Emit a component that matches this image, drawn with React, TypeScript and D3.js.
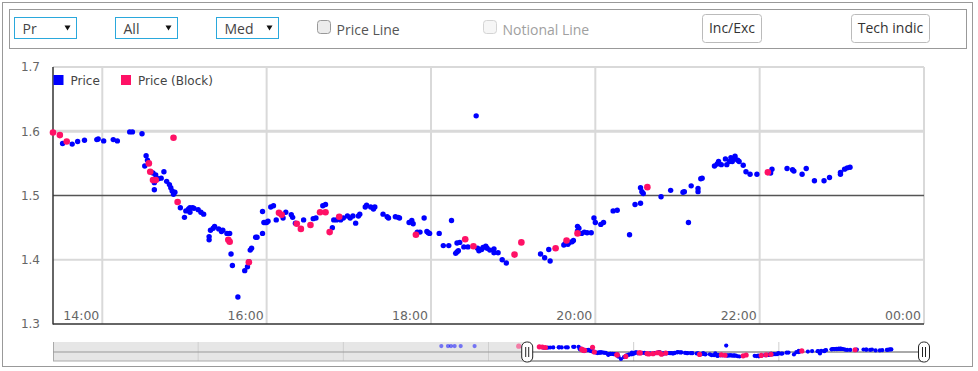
import React, { useEffect, useRef } from "react";
import * as d3 from "d3";

const WIDTH = 978;
const HEIGHT = 371;

// trades: [time, price]
const priceTrades: [string, number][] = [
  ["10:42", 1.615], ["10:53", 1.614], ["10:58", 1.615], ["11:04", 1.614], ["11:14", 1.615], ["11:37", 1.615],
  ["13:29", 1.594], ["13:31", 1.581], ["13:38", 1.58], ["13:42", 1.584], ["13:47", 1.586], ["13:56", 1.587],
  ["13:57", 1.588], ["14:01", 1.585], ["14:08", 1.587], ["14:11", 1.585], ["14:20", 1.599], ["14:22", 1.599],
  ["14:29", 1.596], ["14:32", 1.562], ["14:33", 1.555], ["14:31", 1.546], ["14:37", 1.535], ["14:38", 1.52],
  ["14:38", 1.509], ["14:39", 1.532], ["14:41", 1.526], ["14:43", 1.527], ["14:45", 1.537], ["14:47", 1.522],
  ["14:49", 1.517], ["14:50", 1.512], ["14:51", 1.507], ["14:52", 1.502], ["14:53", 1.505], ["14:57", 1.481],
  ["15:00", 1.466], ["15:01", 1.476], ["15:03", 1.479], ["15:04", 1.481], ["15:06", 1.481], ["15:07", 1.48],
  ["15:04", 1.474], ["15:10", 1.478], ["15:12", 1.474], ["15:14", 1.471], ["15:18", 1.431], ["15:18", 1.436],
  ["15:19", 1.446], ["15:21", 1.449], ["15:22", 1.452], ["15:25", 1.448], ["15:27", 1.444], ["15:28", 1.446],
  ["15:31", 1.441], ["15:33", 1.441], ["15:34", 1.409], ["15:35", 1.391], ["15:39", 1.342], ["15:44", 1.383],
  ["15:46", 1.389], ["15:47", 1.397], ["15:48", 1.415], ["15:49", 1.418], ["15:52", 1.435], ["15:53", 1.435],
  ["15:57", 1.475], ["15:57", 1.441], ["15:58", 1.458], ["15:59", 1.458], ["16:00", 1.458], ["16:01", 1.46],
  ["16:03", 1.482], ["16:05", 1.484], ["16:07", 1.462], ["16:12", 1.465], ["16:14", 1.474], ["16:18", 1.47],
  ["16:19", 1.466], ["16:21", 1.457], ["16:27", 1.462], ["16:34", 1.464], ["16:36", 1.465], ["16:41", 1.484],
  ["16:43", 1.486], ["16:48", 1.45], ["16:49", 1.462], ["16:51", 1.462], ["16:54", 1.462], ["16:56", 1.465],
  ["16:59", 1.468], ["17:01", 1.465], ["17:03", 1.468], ["17:05", 1.457], ["17:07", 1.468], ["17:08", 1.471],
  ["17:12", 1.482], ["17:13", 1.485], ["17:16", 1.482], ["17:18", 1.479], ["17:19", 1.482], ["17:25", 1.471],
  ["17:28", 1.467], ["17:29", 1.465], ["17:34", 1.467], ["17:36", 1.466], ["17:37", 1.465], ["17:44", 1.458],
  ["17:46", 1.461], ["17:47", 1.456], ["17:50", 1.443], ["17:52", 1.443], ["17:55", 1.465], ["17:57", 1.444],
  ["17:58", 1.442], ["17:59", 1.441], ["18:06", 1.441], ["18:09", 1.422], ["18:13", 1.422], ["18:15", 1.461],
  ["18:18", 1.41], ["18:19", 1.412], ["18:20", 1.414], ["18:19", 1.426], ["18:21", 1.427], ["18:24", 1.42],
  ["18:27", 1.42], ["18:33", 1.624], ["18:34", 1.418], ["18:35", 1.414], ["18:37", 1.416], ["18:38", 1.419],
  ["18:40", 1.421], ["18:41", 1.418], ["18:43", 1.415], ["18:46", 1.417], ["18:46", 1.411], ["18:49", 1.411],
  ["18:52", 1.4], ["18:55", 1.395], ["19:20", 1.409], ["19:23", 1.403], ["19:26", 1.416], ["19:27", 1.398],
  ["19:37", 1.423], ["19:38", 1.425], ["19:40", 1.424], ["19:41", 1.427], ["19:43", 1.428], ["19:44", 1.43],
  ["19:47", 1.445], ["19:47", 1.452], ["19:48", 1.449], ["19:50", 1.441], ["19:52", 1.443], ["19:54", 1.442],
  ["19:57", 1.442], ["19:59", 1.465], ["20:00", 1.458], ["20:04", 1.455], ["20:06", 1.458], ["20:13", 1.476],
  ["20:16", 1.477], ["20:25", 1.439], ["20:29", 1.486], ["20:33", 1.488], ["20:33", 1.512], ["20:34", 1.506],
  ["20:35", 1.503], ["20:48", 1.498], ["20:55", 1.508], ["21:04", 1.505], ["21:05", 1.506], ["21:08", 1.458],
  ["21:10", 1.515], ["21:15", 1.506], ["21:15", 1.511], ["21:17", 1.526], ["21:18", 1.527], ["21:27", 1.546],
  ["21:29", 1.549], ["21:30", 1.553], ["21:32", 1.548], ["21:35", 1.557], ["21:36", 1.548], ["21:38", 1.553],
  ["21:39", 1.559], ["21:40", 1.553], ["21:42", 1.557], ["21:42", 1.561], ["21:44", 1.555], ["21:45", 1.553],
  ["21:48", 1.547], ["21:50", 1.537], ["21:53", 1.533], ["21:58", 1.533], ["22:08", 1.535], ["22:09", 1.541],
  ["22:20", 1.542], ["22:24", 1.54], ["22:25", 1.538], ["22:31", 1.533], ["22:34", 1.542], ["22:40", 1.523],
  ["22:47", 1.523], ["22:51", 1.528], ["22:59", 1.533], ["22:59", 1.536], ["23:02", 1.541], ["23:04", 1.543],
  ["23:06", 1.544],
];

const blockTrades: [string, number][] = [
  ["12:50", 1.612], ["13:24", 1.598], ["13:29", 1.594], ["13:34", 1.584], ["14:34", 1.55], ["14:35", 1.537],
  ["14:37", 1.524], ["14:39", 1.524], ["14:52", 1.59], ["14:55", 1.49], ["15:32", 1.431], ["15:33", 1.428],
  ["15:47", 1.396], ["16:09", 1.473], ["16:11", 1.47], ["16:22", 1.456], ["16:25", 1.448], ["16:32", 1.454],
  ["16:39", 1.474], ["16:43", 1.474], ["16:46", 1.443], ["16:53", 1.467], ["17:49", 1.439], ["18:25", 1.432],
  ["18:31", 1.421], ["19:01", 1.408], ["19:06", 1.427], ["19:31", 1.418], ["19:39", 1.43], ["19:47", 1.441],
  ["20:38", 1.513], ["22:06", 1.536],
];

const yTicks = [1.3, 1.4, 1.5, 1.6, 1.7];
const yDomain = [1.3, 1.7];
const refLevel = 1.5;
const closeLevel = 1.6;
const viewStart = "13:24";
const brushStart = "13:04";

const selectLabels = ["Pr", "All", "Med"];
const checkLabels = ["Price Line", "Notional Line"];
const buttonLabels = ["Inc/Exc", "Tech indic"];
const legendLabels = ["Price", "Price (Block)"];

const BLUE = "#0000ff";
const PINK = "#ff1166";

const App = () => {
  const svgRef = useRef<SVGSVGElement>(null);

  useEffect(() => {
    document.body.style.margin = "0";
    const svg = d3.select(svgRef.current).attr("width", WIDTH).attr("height", HEIGHT);
    svg.selectAll("*").remove();

    const parse = d3.timeParse("%H:%M");
    const dayStart = parse("00:00") as Date;
    const dayEnd = d3.timeDay.offset(dayStart, 1);

    const plot = { left: 53, right: 924, top: 67, bottom: 324 };
    const nav = { top: 342, mid: 352, bottom: 361 };

    const x = d3.scaleTime().domain([parse(viewStart) as Date, dayEnd]).range([plot.left, plot.right]);
    const y = d3.scaleLinear().domain(yDomain).range([plot.bottom, plot.top]);
    const nx = d3.scaleTime().domain([dayStart, dayEnd]).range([plot.left, plot.right]);
    const ny = d3.scaleLinear().domain(yDomain).range([nav.bottom, nav.top]);

    // outer frame + toolbar
    svg.append("rect").attr("x", 2.5).attr("y", 2.5).attr("width", 970).attr("height", 364)
      .attr("fill", "white").attr("stroke", "#999");
    svg.append("rect").attr("x", 9.5).attr("y", 9.5).attr("width", 957).attr("height", 39)
      .attr("fill", "white").attr("stroke", "#999");

    const tb = svg.append("g").style("font-family", "'Open Sans', sans-serif").style("font-size", "14px");
    const selX = [14.5, 115.5, 216.5];
    selectLabels.forEach((s, i) => {
      const g = tb.append("g").attr("transform", `translate(${selX[i]},17.5)`);
      g.append("rect").attr("width", 62).attr("height", 21).attr("fill", "white").attr("stroke", "#2aa8dc");
      g.append("text").attr("x", 8).attr("y", 16.5).attr("fill", "#444").text(s);
      g.append("path").attr("d", "M50,8 L56,8 L53,13 Z").attr("fill", "#111");
    });

    const chkX = [317.5, 483.5];
    checkLabels.forEach((s, i) => {
      const off = i === 1;
      tb.append("rect").attr("x", chkX[i]).attr("y", 20.5).attr("width", 13).attr("height", 13).attr("rx", 3)
        .attr("fill", off ? "#f6f6f6" : "#ececec").attr("stroke", off ? "#d4d4d4" : "#999");
      tb.append("text").attr("x", chkX[i] + 19).attr("y", 35).attr("fill", off ? "#a0a0a0" : "#555").text(s);
    });

    const btnX = [702.5, 851.5];
    const btnW = [59, 78];
    buttonLabels.forEach((s, i) => {
      tb.append("rect").attr("x", btnX[i]).attr("y", 14.5).attr("width", btnW[i]).attr("height", 28).attr("rx", 3)
        .attr("fill", "white").attr("stroke", "#bbb");
      tb.append("text").attr("x", btnX[i] + btnW[i] / 2).attr("y", 33).attr("text-anchor", "middle")
        .attr("fill", "#333").text(s);
    });

    // main chart grid
    const chart = svg.append("g").style("font-family", "'DejaVu Sans', sans-serif");
    const xTicks = x.ticks(d3.timeHour.every(2) as d3.TimeInterval);
    chart.selectAll("line.vgrid").data(xTicks).join("line").attr("class", "vgrid")
      .attr("x1", (d) => x(d)).attr("x2", (d) => x(d)).attr("y1", plot.top).attr("y2", plot.bottom)
      .attr("stroke", "#d9d9d9").attr("stroke-width", 2);
    chart.selectAll("line.hgrid").data(yTicks.filter((d) => d !== refLevel && d !== yDomain[0])).join("line")
      .attr("class", "hgrid")
      .attr("x1", plot.left).attr("x2", plot.right).attr("y1", (d) => y(d)).attr("y2", (d) => y(d))
      .attr("stroke", "#d9d9d9").attr("stroke-width", (d) => (d === closeLevel ? 3 : 2));
    chart.append("line").attr("x1", plot.left).attr("x2", plot.right).attr("y1", y(refLevel)).attr("y2", y(refLevel))
      .attr("stroke", "#555").attr("stroke-width", 1.5);
    chart.append("line").attr("x1", plot.left).attr("x2", plot.left).attr("y1", plot.top).attr("y2", plot.bottom + 0.5)
      .attr("stroke", "#333").attr("stroke-width", 1.5);
    chart.append("line").attr("x1", plot.left).attr("x2", plot.right).attr("y1", plot.bottom).attr("y2", plot.bottom)
      .attr("stroke", "#333").attr("stroke-width", 1.5);

    chart.selectAll("text.ylab").data(yTicks).join("text").attr("class", "ylab")
      .attr("x", 40).attr("y", (d) => y(d)).attr("dy", "0.36em").attr("text-anchor", "end")
      .style("font-size", "12px").attr("fill", "#666").text((d) => d.toFixed(1));
    chart.selectAll("text.xlab").data(xTicks).join("text").attr("class", "xlab")
      .attr("x", (d) => x(d) - 3).attr("y", 320).attr("text-anchor", "end")
      .style("font-size", "12.5px").attr("fill", "#666").text((d) => d3.timeFormat("%H:%M")(d));

    // legend
    const legX = [53.5, 121];
    legendLabels.forEach((s, i) => {
      chart.append("rect").attr("x", legX[i]).attr("y", 75).attr("width", 10).attr("height", 10)
        .attr("fill", i === 0 ? BLUE : PINK);
      chart.append("text").attr("x", legX[i] + 17).attr("y", 85).style("font-size", "12px")
        .attr("fill", "#444").text(s);
    });

    // points
    svg.append("clipPath").attr("id", "plotClip").append("rect")
      .attr("x", plot.left - 4).attr("y", plot.top).attr("width", plot.right - plot.left + 4)
      .attr("height", plot.bottom - plot.top);
    const pts = svg.append("g").attr("clip-path", "url(#plotClip)");
    const series: [[string, number][], string, number][] = [
      [priceTrades, BLUE, 2.7],
      [blockTrades, PINK, 3.3],
    ];
    series.forEach(([data, color, r]) => {
      pts.append("g").selectAll("circle").data(data).join("circle")
        .attr("cx", (d) => x(parse(d[0]) as Date)).attr("cy", (d) => y(d[1])).attr("r", r).attr("fill", color);
    });

    // navigator
    const navG = svg.append("g");
    const bx = nx(parse(brushStart) as Date);
    navG.append("rect").attr("x", plot.left).attr("y", nav.top).attr("width", plot.right - plot.left)
      .attr("height", nav.bottom - nav.top).attr("fill", "#e6e6e6");
    navG.append("rect").attr("x", bx).attr("y", nav.top).attr("width", plot.right - bx)
      .attr("height", nav.bottom - nav.top).attr("fill", "white");
    const navTicks = nx.ticks(d3.timeHour.every(4) as d3.TimeInterval).filter((d) => +d > +dayStart && +d < +dayEnd);
    navG.selectAll("line.ng").data(navTicks).join("line").attr("class", "ng")
      .attr("x1", (d) => nx(d)).attr("x2", (d) => nx(d)).attr("y1", nav.top).attr("y2", nav.bottom)
      .attr("stroke", "#cfcfcf");
    navG.append("line").attr("x1", plot.left + 0.5).attr("x2", plot.left + 0.5).attr("y1", nav.top).attr("y2", nav.bottom)
      .attr("stroke", "#aaa");
    navG.append("line").attr("x1", plot.left).attr("x2", bx).attr("y1", nav.mid).attr("y2", nav.mid).attr("stroke", "#999");
    navG.append("line").attr("x1", plot.left).attr("x2", bx).attr("y1", nav.bottom).attr("y2", nav.bottom).attr("stroke", "#aaa");
    navG.append("line").attr("x1", bx).attr("x2", plot.right).attr("y1", nav.mid).attr("y2", nav.mid).attr("stroke", "#555");
    navG.append("line").attr("x1", bx).attr("x2", plot.right).attr("y1", nav.bottom).attr("y2", nav.bottom).attr("stroke", "#555");

    series.forEach(([data, color, r]) => {
      navG.append("g").selectAll("circle").data(data).join("circle")
        .attr("cx", (d) => nx(parse(d[0]) as Date)).attr("cy", (d) => ny(d[1])).attr("r", r * 0.78)
        .attr("fill", color)
        .attr("fill-opacity", (d) => (nx(parse(d[0]) as Date) < bx ? 0.5 : 1));
    });

    [bx, plot.right].forEach((hx) => {
      const h = navG.append("g").attr("transform", `translate(${hx},${nav.mid})`);
      h.append("rect").attr("x", -5.5).attr("y", -10).attr("width", 11).attr("height", 20).attr("rx", 5)
        .attr("fill", "white").attr("stroke", "#222");
      h.append("line").attr("x1", -1.5).attr("x2", -1.5).attr("y1", -5).attr("y2", 5).attr("stroke", "#222");
      h.append("line").attr("x1", 1.5).attr("x2", 1.5).attr("y1", -5).attr("y2", 5).attr("stroke", "#222");
    });
  }, []);

  return <svg ref={svgRef} style={{ display: "block" }}></svg>;
};

export default App;
